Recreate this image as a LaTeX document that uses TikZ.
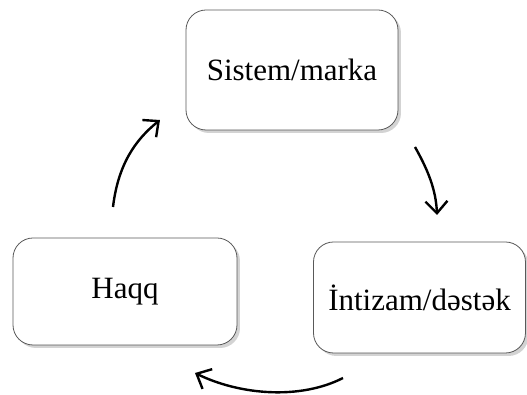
\documentclass[tikz,border=0pt]{standalone}
\usepackage{fontspec}
\setmainfont{Liberation Serif}
\usetikzlibrary{arrows.meta, shadows}

\begin{document}
\begin{tikzpicture}[x=0.5pt, y=-0.5pt,
    box/.style={draw=gray!70!black, rounded corners=10pt, fill=white, align=center,
                font=\fontsize{15.5}{18}\selectfont,
                drop shadow={shadow xshift=1.5pt, shadow yshift=-1.5pt, opacity=0.35}},
    arr/.style={-{Straight Barb[length=6pt, width=11pt]}, line width=1.2pt}
  ]
    \useasboundingbox (0,0) rectangle (527,395);
    \node[box, minimum width=106pt, minimum height=60pt] (sys) at (292,70) {Sistem/marka};
    \node[box, minimum width=112pt, minimum height=53.5pt] (haqq) at (125,291.5) {Haqq};
    \node[box, minimum width=106pt, minimum height=55.5pt] (intz) at (419.5,297.5) {İntizam/dəstək};
    % arrow ends
    \coordinate (l1) at (113,207);
    \coordinate (l2) at (160,120);
    \coordinate (r1) at (415,147);
    \coordinate (r2) at (437,215);
    \coordinate (b1) at (343,378);
    \coordinate (b2) at (195,373);
    \draw[arr] (l1) .. controls (118,165) and (135,140) .. (l2);
    \draw[arr] (r1) .. controls (428,170) and (436,190) .. (r2);
    \draw[arr] (b1) .. controls (300,400) and (240,395) .. (b2);
  \end{tikzpicture}
\end{document}
